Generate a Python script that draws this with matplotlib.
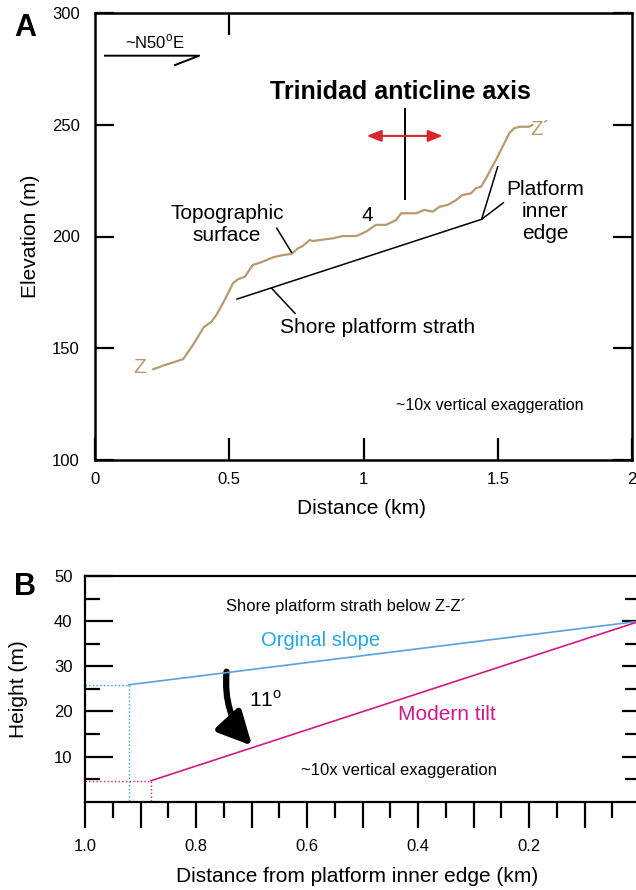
import matplotlib.pyplot as plt
from matplotlib.patches import FancyArrowPatch

plt.rcParams['font.family'] = ['Liberation Sans', 'DejaVu Sans']
plt.rcParams['mathtext.fontset'] = 'custom'
plt.rcParams['mathtext.rm'] = 'Liberation Sans'

TAN = '#b79a6d'
BLUE_LINE = '#5aa2dc'
BLUE_TEXT = '#1fa9e6'
MAGENTA = '#d4178c'
RED = '#d7262e'

# ---- panel A: topographic profile Z-Z'
profile_km = [0.217, 0.260, 0.328, 0.365, 0.405, 0.434, 0.452, 0.483, 0.514, 0.533,
              0.558, 0.588, 0.620, 0.663, 0.700, 0.731, 0.756, 0.774, 0.799, 0.812,
              0.836, 0.886, 0.923, 0.973, 1.010, 1.047, 1.084, 1.122, 1.140, 1.196,
              1.227, 1.258, 1.283, 1.313, 1.345, 1.369, 1.400, 1.419, 1.438, 1.456,
              1.493, 1.518, 1.543, 1.561, 1.580, 1.617, 1.629]
profile_elev = [140.6, 142.5, 145.1, 151.5, 159.4, 161.9, 164.9, 171.6, 179.1, 180.9,
                182.0, 187.3, 188.5, 190.7, 191.7, 192.2, 194.7, 195.8, 198.4, 198.0,
                198.4, 199.2, 200.2, 200.2, 202.2, 205.2, 205.2, 207.4, 210.4, 210.4,
                211.9, 211.1, 213.3, 214.1, 216.3, 218.6, 219.3, 221.6, 222.3, 226.0,
                234.2, 240.2, 246.2, 248.4, 249.1, 249.1, 249.9]
strath_km = [0.529, 1.440]
strath_elev = [172.0, 207.7]
elev_ticks = [100, 150, 200, 250, 300]
dist_ticks = [0, 0.5, 1, 1.5, 2]
dist_labels = ['0', '0.5', '1', '1.5', '2']

# ---- panel B: strath below Z-Z'
orig_km = [0.921, 0.0]
orig_h = [25.9, 40.0]
tilt_km = [0.881, 0.0]
tilt_h = [4.65, 40.0]
height_ticks = [10, 20, 30, 40, 50]
height_minor = [5, 15, 25, 35, 45]
edge_ticks = [1.0, 0.9, 0.8, 0.7, 0.6, 0.5, 0.4, 0.3, 0.2, 0.1, 0.0]
edge_labels = ['1.0', '', '0.8', '', '0.6', '', '0.4', '', '0.2', '', '']
edge_minor = [0.95, 0.85, 0.75, 0.65, 0.55, 0.45, 0.35, 0.25, 0.15, 0.05]

fig = plt.figure(figsize=(6.36, 8.9), dpi=100)

# ================= A =================
axA = fig.add_axes([95 / 636, 430 / 890, 537 / 636, 447 / 890])
axA.plot(profile_km, profile_elev, color=TAN, lw=1.6, solid_joinstyle='round')
axA.plot(strath_km, strath_elev, color='black', lw=1.1)
axA.set_xlim(0, 2)
axA.set_ylim(100, 300)
axA.set_xticks(dist_ticks)
axA.set_xticklabels(dist_labels)
axA.set_yticks(elev_ticks)
axA.set_yticklabels([str(v) for v in elev_ticks])
axA.tick_params(axis='y', direction='in', length=14, width=1.6, right=True,
                labelsize=12, pad=11)
axA.tick_params(axis='x', direction='in', length=16, width=1.6,
                labelsize=12, pad=9)
for s in axA.spines.values():
    s.set_linewidth(1.8)
topA = axA.secondary_xaxis('top')
topA.set_xticks([0.5])
topA.tick_params(direction='in', length=16, width=1.6, labeltop=False)
axA.set_xlabel('Distance (km)', fontsize=15)
axA.xaxis.set_label_coords(0.497, -0.088)
axA.set_ylabel('Elevation (m)', fontsize=15)
axA.yaxis.set_label_coords(-0.102, 0.5)

axA.text(0.168, 141.2, 'Z', color=TAN, fontsize=15, ha='center', va='center')
axA.text(1.657, 247.7, 'Z\u00b4', color=TAN, fontsize=15, ha='center', va='center')
axA.text(1.136, 264.7, 'Trinidad anticline axis', fontsize=18, fontweight='bold',
         ha='center', va='center')
axA.plot([1.155, 1.155], [256.9, 216.7], color='black', lw=1.4)
axA.annotate('', xy=(1.295, 245.0), xytext=(1.012, 245.0),
             arrowprops=dict(arrowstyle='<|-|>,head_length=0.55,head_width=0.22',
                             color=RED, lw=1.5, mutation_scale=16,
                             shrinkA=0, shrinkB=0))
axA.text(1.013, 209.6, '4', fontsize=15, ha='center', va='center')
axA.text(0.492, 205.2, 'Topographic\nsurface', fontsize=15, ha='center', va='center')
axA.plot([0.677, 0.732], [203.7, 192.9], color='black', lw=1.1)
axA.text(1.054, 159.5, 'Shore platform strath', fontsize=15, ha='center', va='center')
axA.plot([0.658, 0.745], [176.8, 165.6], color='black', lw=1.1)
axA.text(1.676, 211.0, 'Platform\ninner\nedge', fontsize=15, ha='center', va='center')
axA.plot([1.4998, 1.440, 1.521], [231.2, 207.7, 215.1], color='black', lw=1.1)
axA.text(1.471, 124.6, '~10x vertical exaggeration', fontsize=11.5,
         ha='center', va='center')
axA.text(0.223, 287.0, '~N50$^{\\rm o}$E', fontsize=12, ha='center', va='center')
axA.plot([0.037, 0.388, 0.298], [280.9, 280.9, 276.7], color='black', lw=1.4)

fig.text(25 / 636, 1 - 28 / 890, 'A', fontsize=22, fontweight='bold',
         ha='center', va='center')

# ================= B =================
axB = fig.add_axes([85 / 636, 88.3 / 890, 555 / 636, 225.7 / 890])
axB.plot(orig_km, orig_h, color=BLUE_LINE, lw=1.2)
axB.plot(tilt_km, tilt_h, color=MAGENTA, lw=1.2)
axB.plot([1.0, orig_km[0], orig_km[0]], [orig_h[0], orig_h[0], 0],
         color=BLUE_TEXT, lw=1.0, ls=':')
axB.plot([1.0, tilt_km[0], tilt_km[0]], [tilt_h[0], tilt_h[0], 0],
         color=MAGENTA, lw=1.0, ls=':')
axB.set_xlim(1.0, 0.0)
axB.set_ylim(0, 50)
axB.set_xticks(edge_ticks)
axB.set_xticklabels(edge_labels)
axB.set_xticks(edge_minor, minor=True)
axB.set_yticks(height_ticks)
axB.set_yticklabels([str(v) for v in height_ticks])
axB.set_yticks(height_minor, minor=True)
axB.tick_params(axis='x', which='major', direction='out', length=19, width=1.6,
                labelsize=12, pad=8)
axB.tick_params(axis='x', which='minor', direction='out', length=11.5, width=1.6)
axB.tick_params(axis='y', which='major', direction='in', length=20, width=1.6,
                labelsize=12, pad=9)
axB.tick_params(axis='y', which='minor', direction='in', length=11, width=1.6)
for s in axB.spines.values():
    s.set_linewidth(1.6)
rightB = axB.secondary_yaxis('right')
rightB.set_yticks(height_ticks[:-1])
rightB.set_yticks(height_minor, minor=True)
rightB.tick_params(which='major', direction='in', length=13, width=1.6, labelright=False)
rightB.tick_params(which='minor', direction='in', length=11, width=1.6)
axB.set_xlabel('Distance from platform inner edge (km)', fontsize=15)
axB.xaxis.set_label_coords(0.49, -0.29)
axB.set_ylabel('Height (m)', fontsize=15)
axB.yaxis.set_label_coords(-0.103, 0.5)

axB.text(0.530, 43.4, 'Shore platform strath below Z-Z\u00b4', fontsize=12,
         ha='center', va='center')
axB.text(0.575, 35.8, 'Orginal slope', fontsize=14.5, color=BLUE_TEXT,
         ha='center', va='center')
axB.text(0.348, 19.4, 'Modern tilt', fontsize=15, color=MAGENTA,
         ha='center', va='center')
axB.text(0.674, 22.5, '11$^{\\rm o}$', fontsize=15, ha='center', va='center')
axB.text(0.435, 7.0, '~10x vertical exaggeration', fontsize=12,
         ha='center', va='center')
arrow = FancyArrowPatch((0.745, 28.8), (0.699, 12.4), connectionstyle='arc3,rad=0.22',
                        arrowstyle='-|>,head_length=1.0,head_width=0.5',
                        mutation_scale=20, lw=4.5, color='black',
                        shrinkA=0, shrinkB=0)
axB.add_patch(arrow)

fig.text(25 / 636, 1 - 587 / 890, 'B', fontsize=22, fontweight='bold',
         ha='center', va='center')

fig.savefig('out.png', dpi=100)
